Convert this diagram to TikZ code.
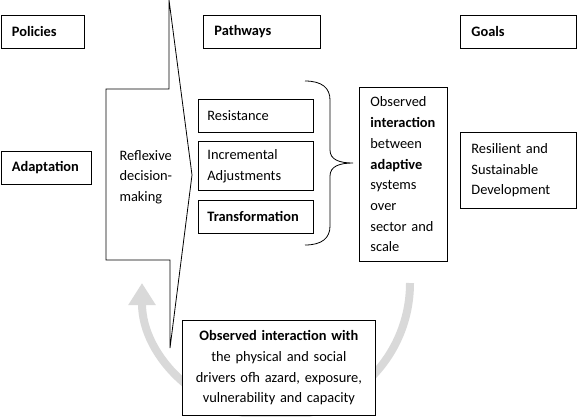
\documentclass[tikz,border=0pt]{standalone}
\usepackage{fontspec}
\setmainfont{Carlito}
\usetikzlibrary{arrows.meta}

\begin{document}
\begin{tikzpicture}[x=1pt, y=-1pt,
  box/.style={draw, line width=.8pt, fill=white, anchor=north west, inner ysep=0pt,
    align=left, font=\fontsize{14.4}{20.7}\selectfont},
  head/.style={box, font=\fontsize{14.4}{20.7}\selectfont\bfseries}]
\useasboundingbox (0,0) rectangle (577,416);
% feedback loop
\path [draw, black!15, line width=8pt, -{Triangle[width=26pt, length=22pt]}]
  (410,283) arc [start angle=0, end angle=180, radius=134];
% reflexive decision-making arrow
\path [draw, line width=.8pt] (169,0) -- (169,89) -- (106,89) -- (106,260)
  -- (170,260) -- (170,348) -- (192,175) -- cycle;
\node [anchor=west, align=left, font=\fontsize{14.4}{20.7}\selectfont] (reflexive) at (116,177)
  {Reflexive\\decision-\\making};
% column heads
\node [head, minimum width=83pt, minimum height=33pt, text width=61pt, inner xsep=11pt] (policies) at (.5,15) {Policies};
\node [head, minimum width=117pt, minimum height=33pt, text width=95pt, inner xsep=11pt] (pathways) at (203,15) {Pathways};
\node [head, minimum width=116pt, minimum height=33pt, text width=94pt, inner xsep=11pt] (goals) at (460,15) {Goals};
\node [head, minimum width=90pt, minimum height=33pt, text width=68pt, inner xsep=11pt] (adaptation) at (.5,151) {Adaptation};
% pathways
\node [box, minimum width=115pt, minimum height=33pt, text width=97pt, inner xsep=9pt] (resistance) at (198,99) {Resistance};
\node [box, minimum width=115pt, minimum height=49pt, text width=97pt, inner xsep=9pt] (incremental) at (198,141) {Incremental\\Adjustments};
\node [head, minimum width=115pt, minimum height=33pt, text width=97pt, inner xsep=9pt] (transformation) at (198,200) {Transformation};
% brace
\path [draw, line width=.8pt] (305,81) .. controls (322,81) and (330,88) .. (330,100) -- (330,150)
  .. controls (330,160) and (340,163) .. (353,163)
  .. controls (340,163) and (330,166) .. (330,176) -- (330,226)
  .. controls (330,238) and (322,245) .. (305,245);
\node [box, minimum width=88pt, minimum height=174pt, text width=66pt, inner xsep=11pt] (observed) at (359,87)
  {Observed\\\textbf{interaction}\\between\\\textbf{adaptive}\\systems\\over\\sector and\\scale};
\node [box, minimum width=116pt, minimum height=76pt, text width=94pt, inner xsep=11pt] (resilient) at (460,132)
  {Resilient and\\Sustainable\\Development};
\node [box, align=center, minimum width=193pt, minimum height=95pt, text width=181pt, inner xsep=6pt] (drivers) at (182,320)
  {\textbf{Observed interaction with}\\the physical and social\\drivers ofh azard, exposure,\\vulnerability and capacity};
\end{tikzpicture}
\end{document}
